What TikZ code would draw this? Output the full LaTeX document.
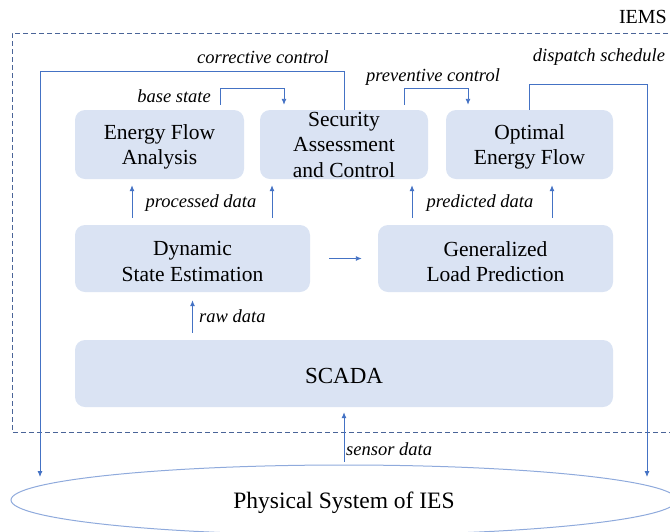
\documentclass[tikz,border=0pt]{standalone}
\usepackage{fontspec}
\newfontfamily\mainf{Liberation Serif}
\usetikzlibrary{arrows.meta,shapes.geometric,calc}
\definecolor{boxfill}{HTML}{DAE3F3}
\definecolor{linec}{HTML}{4472C4}
\definecolor{dashc}{HTML}{4A6498}
\definecolor{ellc}{HTML}{8FAADC}
\tikzset{
  box/.style={rectangle, rounded corners=10pt, fill=boxfill, draw=none, inner sep=0pt, align=center, font=\mainf\fontsize{21.5}{25.5}\selectfont},
  btxt/.style={inner sep=0pt, align=center, yshift=-2.5pt, font=\mainf\fontsize{21.5}{25.5}\selectfont},
  arr/.style={draw=linec, line width=0.9pt, -{Latex[length=6pt,width=5pt]}},
  conn/.style={draw=linec, line width=0.9pt},
  lab/.style={inner sep=0pt, font=\mainf\fontsize{18.5}{20}\selectfont\itshape},
}
\begin{document}
\begin{tikzpicture}[x=1pt,y=-1pt]
\useasboundingbox (0,0) rectangle (670,531);
\clip (0,0) rectangle (670,531);
% IEMS frame
\draw[dashc, line width=0.8pt, dash pattern=on 5pt off 3pt] (700,33) -- (12,33) -- (12,432) -- (700,432);
\node[inner sep=0pt, anchor=east, font=\mainf\fontsize{20}{22}\selectfont] (iems) at (667,17) {IEMS};
% boxes
\node[box, minimum width=169pt, minimum height=69pt, label={[btxt]center:{Energy Flow\\Analysis}}] (efa) at (159.5,144.5) {};
\node[box, minimum width=168pt, minimum height=69pt] (sac) at (344,144.5) {Security\\Assessment\\and Control};
\node[box, minimum width=167pt, minimum height=69pt, label={[btxt]center:{Optimal\\Energy Flow}}] (opt) at (529.5,144.5) {};
\node[box, minimum width=235pt, minimum height=67pt, label={[btxt, yshift=-0.5pt]center:{Dynamic\\State Estimation}}] (dse) at (192.5,258.5) {};
\node[box, minimum width=235pt, minimum height=67pt, label={[btxt, yshift=-0.5pt]center:{Generalized\\Load Prediction}}] (glp) at (495.5,258.5) {};
\node[box, minimum width=538pt, minimum height=67pt, label={[btxt, font=\mainf\fontsize{23}{26}\selectfont]center:SCADA}] (scada) at (344,373.5) {};
\node[ellipse, draw=ellc, line width=1pt, minimum width=666pt, minimum height=70pt, inner sep=0pt, label={[btxt, font=\mainf\fontsize{23.5}{26}\selectfont]center:Physical System of IES}] (ies) at (344,500) {};
% coordinates
\coordinate (ccL) at (40,71);
\coordinate (ccE) at (40,477);
\coordinate (dsR) at (647,84);
\coordinate (dsE) at (647,477);
% corrective control
\draw[conn] (sac.north) |- (ccL);
\draw[arr] (ccL) -- (ccE);
% dispatch schedule
\draw[conn] (opt.north) |- (dsR);
\draw[arr] (dsR) -- (dsE);
% base state
\draw[arr] ([xshift=60.5pt,yshift=5pt]efa.north) -- ++(0,-16) -| ([xshift=-60pt,yshift=5pt]sac.north);
% preventive control
\draw[arr] ([xshift=60pt,yshift=5pt]sac.north) -- ++(0,-16) -| ([xshift=-61.5pt,yshift=5pt]opt.north);
% processed data
\draw[arr] ([xshift=-60.5pt,yshift=7pt]dse.north) -- ([xshift=-27.5pt,yshift=-6pt]efa.south);
\draw[arr] ([xshift=79.5pt,yshift=7pt]dse.north) -- ([xshift=-72pt,yshift=-6pt]sac.south);
% predicted data
\draw[arr] ([xshift=-83.5pt,yshift=7pt]glp.north) -- ([xshift=68pt,yshift=-6pt]sac.south);
\draw[arr] ([xshift=56.5pt,yshift=7pt]glp.north) -- ([xshift=22.5pt,yshift=-6pt]opt.south);
% dse -> glp
\draw[arr] ([xshift=19pt]dse.east) -- ([xshift=-16pt]glp.west);
% raw data
\draw[arr, shorten <=7pt, shorten >=8pt] (dse.south |- scada.north) -- (dse.south);
% sensor data
\draw[arr, shorten <=3pt, shorten >=5pt] (ies.north) -- (scada.south);
% labels
\node[lab] (lcc) at (263,57) {corrective control};
\node[lab, anchor=east] (lbs) at (211,96) {base state};
\node[lab] (lpc) at (433,77) {preventive control};
\node[lab] (lds) at (599,57) {dispatch schedule};
\node[lab] (lpd) at (201,203) {processed data};
\node[lab] (lpr) at (480,203) {predicted data};
\node[lab, anchor=west] (lrd) at (199,316) {raw data};
\node[lab, anchor=west] (lsd) at (346,449) {sensor data};
\end{tikzpicture}
\end{document}
